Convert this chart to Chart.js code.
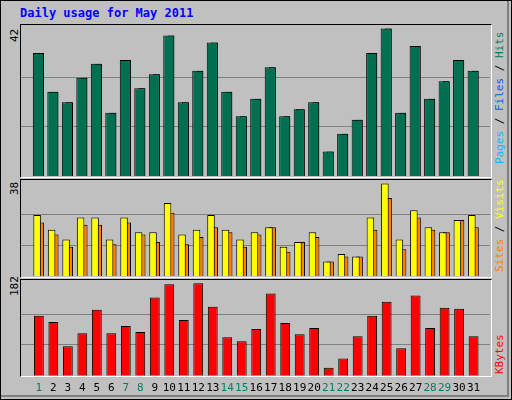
<!DOCTYPE html>
<html><head><meta charset="utf-8">
<script src="https://cdn.jsdelivr.net/npm/chart.js@4"></script>
<style>
html,body{margin:0;padding:0;}
body{width:512px;height:400px;position:relative;background:#C0C0C0;overflow:hidden;font-family:"DejaVu Sans Mono",monospace;}
#frame{position:absolute;left:0;top:0;width:510px;height:398px;border:1px solid #000;}
#frame2{position:absolute;left:1px;top:1px;width:508px;height:396px;border-right:2px solid #808080;border-bottom:2px solid #808080;box-sizing:border-box;}
.panel{position:absolute;left:20px;width:470px;border-top:1px solid #000;border-left:1px solid #000;border-right:1px solid #fff;border-bottom:1px solid #fff;}
.box{position:absolute;}
.title{position:absolute;left:20px;top:6px;color:#0000FF;font-weight:bold;font-size:12px;}
.rot{position:absolute;transform-origin:0 0;transform:rotate(-90deg);white-space:nowrap;font-size:11px;}
</style></head><body>
<div id="frame"></div><div id="frame2"></div>
<div class="title">Daily usage for May 2011</div>
<div class="panel" style="top:24px;height:152px"></div>
<div class="panel" style="top:179px;height:97px"></div>
<div class="panel" style="top:279px;height:96px"></div>
<div class="box" style="left:21px;top:25px;width:469px;height:151px"><canvas id="c1"></canvas></div>
<div class="box" style="left:21px;top:180px;width:469px;height:96px"><canvas id="c2"></canvas></div>
<div class="box" style="left:21px;top:280px;width:469px;height:121px"><canvas id="c3"></canvas></div>
<div class="rot" style="left:8px;top:42px;">42</div>
<div class="rot" style="left:8px;top:195px;">38</div>
<div class="rot" style="left:8px;top:296px;">182</div>
<div class="rot" style="left:493px;top:164px;"><span style="color:#00C0FF">Pages</span> / <span style="color:#0060FF">Files</span> / <span style="color:#008060">Hits</span></div>
<div class="rot" style="left:493px;top:272px;"><span style="color:#FF8000">Sites</span> / <span style="color:#FFFF00">Visits</span></div>
<div class="rot" style="left:493px;top:374px;"><span style="color:#FF0000">KBytes</span></div>
<script>
const days = Array.from({length:31},(_,i)=>i+1);
const weekend = [1,7,8,14,15,21,22,28,29];
const hits   = [35,24,21,28,32,18,33,25,29,40,21,30,38,24,17,22,31,17,19,21,7,12,16,35,42,18,37,22,27,33,30];
const files  = [35,24,21,28,32,18,33,25,29,40,21,30,38,24,17,22,31,17,19,21,7,12,16,35,42,18,37,22,27,33,30];
const pages  = [31,24,16,23,30,16,27,23,27,36,18,27,36,20,12,21,29,16,19,20,4,9,16,35,38,15,35,20,23,28,21];
const visits = [25,19,15,24,24,15,24,18,18,30,17,19,25,19,15,18,20,12,14,18,6,9,8,24,38,15,27,20,18,23,25];
const sites  = [22,17,12,21,21,13,22,17,14,26,13,16,20,18,12,17,20,10,14,16,6,8,8,19,32,11,24,19,18,23,20];
const kbytes = [118,106,58,84,130,84,98,86,154,180,110,182,136,76,68,92,162,104,82,94,16,34,78,118,146,54,158,94,134,132,78];
const maxes = [42,38,182];

function ds(vals,shift,frac,color,axis){
  return {xAxisID:axis,data:vals.map((v,i)=>({x:days[i]+shift,y:v})),backgroundColor:color,borderColor:'#000',
    borderWidth:1,barPercentage:frac,categoryPercentage:1,grouped:false,borderSkipped:'bottom'};
}
function xAxis(show){
  return {type:'linear',min:0.29,max:31.61,display:show,grid:{display:false,drawTicks:false},border:{display:false},
    afterBuildTicks:s=>{s.ticks=days.map(d=>({value:d}));},
    ticks:{padding:6,autoSkip:false,maxRotation:0,font:{family:'DejaVu Sans Mono',size:11},
      color:c=>weekend.includes(c.tick.value)?'#008060':'#000',callback:v=>String(v)}};
}
function make(id,datasets,max,top,showX){
  const scales={
    y:{min:0,max:top,border:{display:false},
      afterBuildTicks:s=>{s.ticks=[max/3,2*max/3].map(v=>({value:v}));},
      afterFit:s=>{s.width=0;},
      ticks:{display:false},grid:{color:'#808080',lineWidth:1,drawTicks:false}}};
  datasets.forEach((d,i)=>{scales[d.xAxisID]=xAxis(showX && i===0);});
  new Chart(document.getElementById(id),{type:'bar',data:{datasets},
    options:{responsive:true,maintainAspectRatio:false,animation:false,
      plugins:{legend:{display:false},tooltip:{enabled:false}},
      layout:{padding:0},scales}});
}
make('c1',[ds(hits,-0.03,0.77,'#007050','x'),ds(files,0.11,0.46,'#00E0FF','xf'),ds(pages,-0.19,0.16,'#0000FF','xp')],maxes[0],43.0,false);
make('c2',[ds(visits,-0.12,0.52,'#FFFF00','x'),ds(sites,0.12,0.48,'#FF8000','xs')],maxes[1],39.4,false);
make('c3',[ds(kbytes,0,0.68,'#FF0000','x')],maxes[2],188.6,true);
</script>
</body></html>
